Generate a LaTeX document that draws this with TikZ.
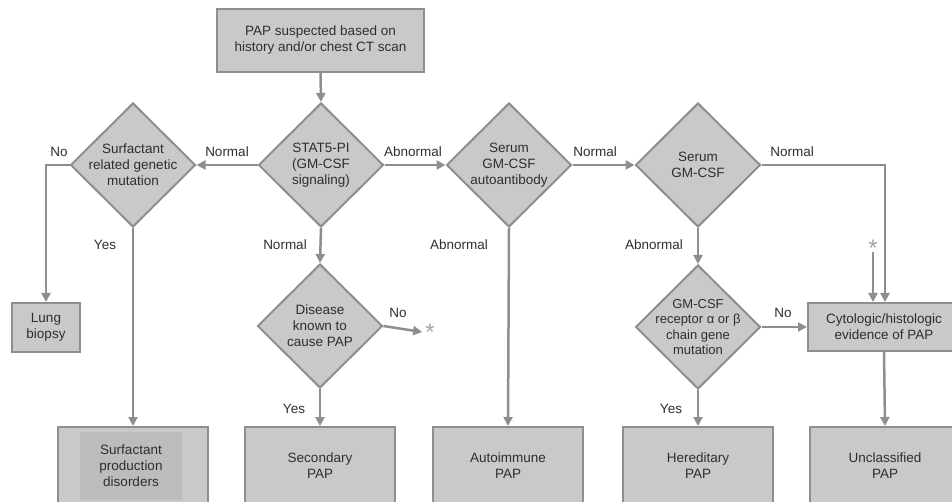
\documentclass[tikz,border=0pt]{standalone}
\usepackage{fontspec}
\setmainfont{Liberation Sans}
\usetikzlibrary{shapes.geometric,arrows.meta}
\definecolor{boxfill}{HTML}{C9C9C9}
\definecolor{innerfill}{HTML}{BCBCBC}
\definecolor{edgegray}{HTML}{8E8E8E}
\definecolor{txtgray}{HTML}{2E2E2E}
\tikzset{
  txt/.style={text=txtgray, font=\fontsize{13.5}{16}\selectfont, align=center, inner sep=0},
  rectbox/.style={draw=edgegray, line width=2pt, fill=boxfill, txt, rectangle},
  dia/.style={draw=edgegray, line width=2pt, fill=boxfill, diamond, minimum width=125, minimum height=124, inner sep=0},
  lab/.style={txt},
  star/.style={text=edgegray!80, font=\fontsize{24}{24}\selectfont, inner sep=0},
  arr/.style={draw=edgegray, line width=2.5pt, -{Triangle[width=9pt,length=9pt]}},
}
\begin{document}
\begin{tikzpicture}[x=1pt,y=-1pt]
\path[use as bounding box, clip] (0,0) rectangle (952,502);
% boxes
\node[rectbox, minimum width=207, minimum height=63] (top) at (320.5,40.5) {PAP suspected based on\\history and/or chest CT scan};
\node[rectbox, minimum width=68, minimum height=49] (lung) at (46,327.5) {Lung\\biopsy};
\node[rectbox, minimum width=152, minimum height=48] (cyto) at (884,327) {Cytologic/histologic\\evidence of PAP};
% diamonds
\node[dia, label={[txt]center:Surfactant\\related genetic\\mutation}] (surf) at (133,165) {};
\node[dia, label={[txt]center:STAT5-PI\\(GM-CSF\\signaling)}] (stat) at (321,165) {};
\node[dia, label={[txt]center:Serum\\GM-CSF\\autoantibody}] (auto) at (509,165) {};
\node[dia, label={[txt]center:Serum\\GM-CSF}] (serum) at (698,165) {};
\node[dia, label={[txt]center:Disease\\known to\\cause PAP}] (dis) at (320,326) {};
\node[dia, label={[txt, font=\fontsize{13}{15.5}\selectfont]center:GM-CSF\\receptor α or β\\chain gene\\mutation}] (rec) at (698,327) {};
% bottom boxes
\node[rectbox, minimum width=150, minimum height=78] (bsurf) at (133,466) {};
\node[txt, fill=innerfill, minimum width=102, minimum height=68] (bsurft) at (131,466) {Surfactant\\production\\disorders};
\node[rectbox, minimum width=150, minimum height=78] (bsec) at (320,466) {Secondary\\PAP};
\node[rectbox, minimum width=150, minimum height=78] (bauto) at (508,466) {Autoimmune\\PAP};
\node[rectbox, minimum width=150, minimum height=78] (bher) at (698,466) {Hereditary\\PAP};
\node[rectbox, minimum width=150, minimum height=78] (bunc) at (885,466) {Unclassified\\PAP};
% asterisks
\node[star] (star1) at (430,332) {*};
\node[star] (star2) at (873,248) {*};
% connectors
\draw[arr] (top.south) -- (stat.north);
\draw[arr] (stat.west) -- (surf.east);
\draw[arr] (surf.west) -| (lung.north);
\draw[arr] (surf.south) -- (bsurf.north);
\draw[arr] (stat.east) -- (auto.west);
\draw[arr] (auto.east) -- (serum.west);
\draw[arr] (serum.east) -| ([xshift=1]cyto.north);
\draw[arr] ([yshift=4]star2.south) -- ([xshift=-11]cyto.north);
\draw[arr] (stat.south) -- (dis.north);
\draw[arr] (dis.east) -- ([xshift=-3]star1.west);
\draw[arr] (dis.south) -- (bsec.north);
\draw[arr] (auto.south) -- (bauto.north);
\draw[arr] (serum.south) -- (rec.north);
\draw[arr] (rec.east) -- (cyto.west);
\draw[arr] (rec.south) -- (bher.north);
\draw[arr] (cyto.south) -- (bunc.north);
% labels
\node[lab] (l1) at (59,152) {No};
\node[lab] (l2) at (227,152) {Normal};
\node[lab] (l3) at (413,152) {Abnormal};
\node[lab] (l4) at (595,152) {Normal};
\node[lab] (l5) at (792,152) {Normal};
\node[lab] (l6) at (105,245) {Yes};
\node[lab] (l7) at (285,245) {Normal};
\node[lab] (l8) at (459,245) {Abnormal};
\node[lab] (l9) at (654,245) {Abnormal};
\node[lab] (l10) at (398,313) {No};
\node[lab] (l11) at (783,313) {No};
\node[lab] (l12) at (294,409) {Yes};
\node[lab] (l13) at (671,409) {Yes};
\end{tikzpicture}
\end{document}
